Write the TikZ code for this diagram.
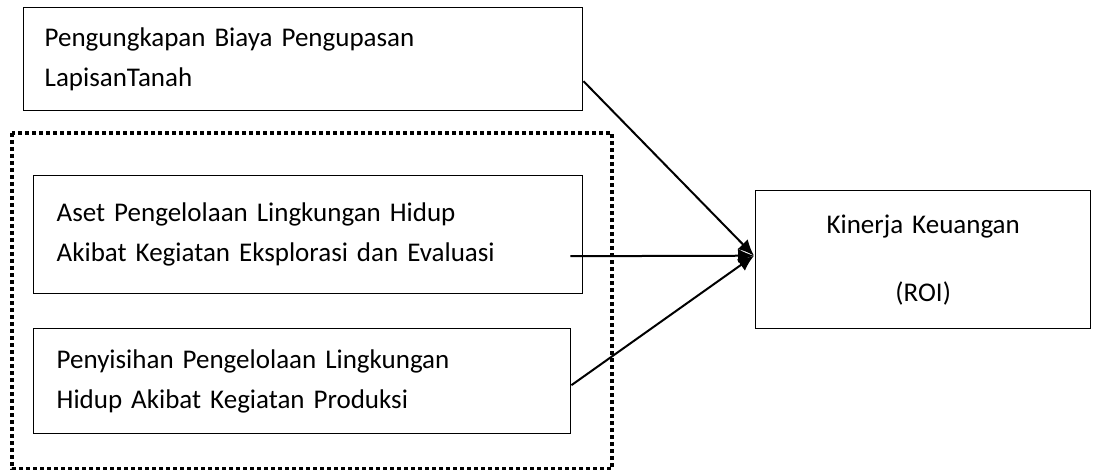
\documentclass[tikz,border=0pt]{standalone}
\usepackage{fontspec}
\setmainfont{Carlito}
\usetikzlibrary{arrows.meta,calc,positioning}

\begin{document}
\begin{tikzpicture}[x=1pt,y=-1pt,>={Latex[length=16pt,width=14pt]}]
  \tikzset{
    varbox/.style={draw,line width=1.4pt,anchor=north west,align=left,
      inner ysep=0pt,font=\fontsize{27}{40}\selectfont},
    link/.style={->,line width=2pt},
    dotframe/.style={line width=4pt,dash pattern=on 4pt off 3pt}}
  \useasboundingbox (0,0) rectangle (1102,470);
  \node[varbox,inner xsep=21pt,minimum width=559pt,minimum height=103pt,text width=517pt]
    (biaya) at (23,7) {Pengungkapan Biaya Pengupasan\\LapisanTanah};
  \node[varbox,inner xsep=23pt,minimum width=549pt,minimum height=118pt,text width=503pt]
    (aset) at (33,175) {Aset Pengelolaan Lingkungan Hidup\\Akibat Kegiatan Eksplorasi dan Evaluasi};
  \node[varbox,inner xsep=23pt,minimum width=537pt,minimum height=105pt,text width=491pt]
    (penyisihan) at (33,328) {Penyisihan Pengelolaan Lingkungan\\Hidup Akibat Kegiatan Produksi};
  \node[varbox,align=center,inner xsep=21pt,minimum width=335pt,minimum height=138pt,text width=293pt]
    (kinerja) at (755,190) {Kinerja Keuangan\\[28pt](ROI)};
  % kotak titik-titik
  \draw[dotframe] (12,133) rectangle (612,469);
  % panah ke kinerja
  \coordinate (tip) at ($(kinerja.west)+(-1,-4)$);
  \draw[link] ($(biaya.north east)!0.71!(biaya.south east)$) -- (tip);
  \draw[link] ($(aset.north east)!0.68!(aset.south east)+(-13,0)$) -- (tip);
  \draw[link] ($(penyisihan.east)+(0,4)$) -- (tip);
\end{tikzpicture}
\end{document}
